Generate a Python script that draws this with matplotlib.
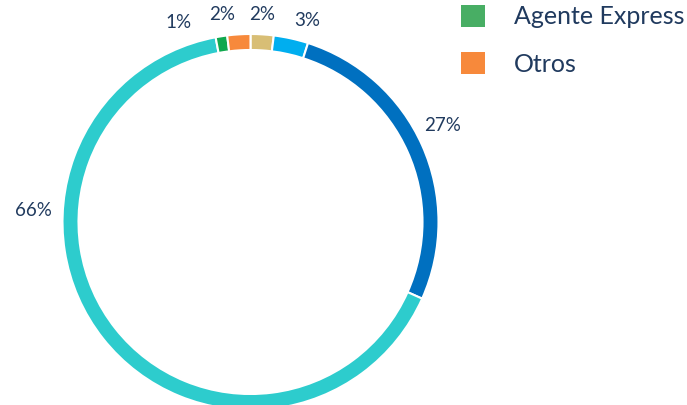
import matplotlib
matplotlib.use("Agg")
import matplotlib.pyplot as plt
import numpy as np
from matplotlib.patches import Patch

# Data
categories = ["Otro canal A", "Otro canal B", "Otro canal C", "Otro canal D", "Agente Express", "Otros"]
values = [2, 3, 27, 66, 1, 2]
labels = ["2%", "3%", "27%", "66%", "1%", "2%"]
colors = ["#D8BE75", "#00AEEF", "#0070C0", "#2DCCCD", "#10A84E", "#F7893B"]
legend_names = ["Agente Express", "Otros"]
legend_colors = ["#48AE64", "#F7893B"]

# label placement (angle in degrees, radius factor)
label_angles = [86.7, 74.2, 26.8, 177.0, 109.8, 97.7]
label_radii = [1.108, 1.116, 1.144, 1.156, 1.13, 1.116]

W, H = 687, 405
fig = plt.figure(figsize=(W / 100, H / 100), dpi=100)
ax = fig.add_axes([0, 0, 1, 1])

cx, cy, R = 250.5, 405 - 222, 188
ax.pie(values, colors=colors, startangle=90, counterclock=False,
       center=(cx, cy), radius=R, frame=True,
       wedgeprops=dict(width=16, edgecolor="white", linewidth=1.5))
ax.set_xlim(0, W)
ax.set_ylim(0, H)
ax.set_aspect("equal")
ax.axis("off")

txt_color = "#203A5E"
font = ["Lato", "DejaVu Sans"]
for lab, ang, rr in zip(labels, label_angles, label_radii):
    a = np.deg2rad(ang)
    ax.text(cx + rr * R * np.cos(a), cy + rr * R * np.sin(a), lab,
            ha="center", va="center", fontsize=13.5, color=txt_color,
            family=font)

leg_handles = [Patch(facecolor=c, edgecolor="none") for c in legend_colors]
leg = ax.legend(leg_handles, legend_names, loc="upper left",
                bbox_to_anchor=(461 / W, 1.0 - 5 / H), frameon=False,
                prop=dict(family=font, size=18),
                handlelength=0.95, handleheight=0.95, handletextpad=1.15,
                labelspacing=0.96, borderaxespad=0, borderpad=0)
for t in leg.get_texts():
    t.set_color(txt_color)

fig.savefig("out.png", dpi=100)
